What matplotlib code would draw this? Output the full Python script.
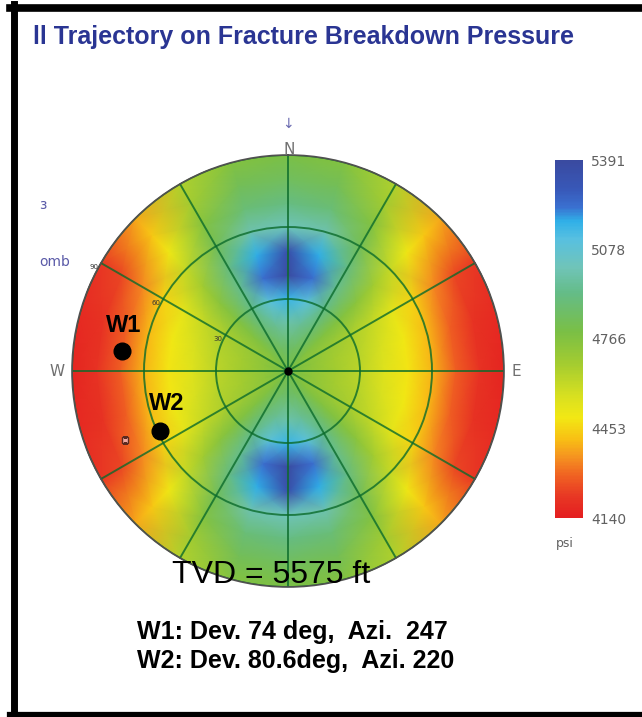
import numpy as np
import matplotlib
matplotlib.use("Agg")
import matplotlib.pyplot as plt
from matplotlib.colors import LinearSegmentedColormap
from matplotlib.lines import Line2D

# breakdown pressure (psi) by well azimuth (rows) and deviation (columns),
# one quadrant; the field is mirrored across the N-S and E-W axes
deviation = [0, 10, 20, 30, 40, 50, 60, 70, 80, 90]
azimuth = [0, 15, 30, 45, 60, 75, 90]
pressure = [
    [4790, 4866, 4990, 5160, 5391, 5350, 5016, 4915, 4840, 4790],
    [4790, 4853, 4953, 5100, 5230, 5180, 5000, 4890, 4828, 4766],
    [4790, 4828, 4880, 4930, 4940, 4910, 4828, 4766, 4690, 4650],
    [4790, 4766, 4766, 4766, 4750, 4690, 4610, 4500, 4430, 4380],
    [4790, 4740, 4703, 4665, 4610, 4530, 4450, 4340, 4240, 4210],
    [4790, 4740, 4678, 4640, 4570, 4495, 4405, 4280, 4200, 4175],
    [4790, 4728, 4678, 4628, 4550, 4485, 4400, 4280, 4200, 4160],
]
p_min, p_max = 4140, 5391
scale_ticks = [4140, 4453, 4766, 5078, 5391]

# wells: stated trajectory and the labelled marker positions on the plot
well_names = ["W1", "W2"]
well_dev = [74, 80.6]
well_azi = [247, 220]
marker_dev = [69.7, 58.9]
marker_azi = [277, 245]
ring_labels = [90, 60, 30]

cmap = LinearSegmentedColormap.from_list("fbp", [
    (0.00, "#e41e20"), (0.06, "#e83824"), (0.12, "#f06422"),
    (0.17, "#f59420"), (0.22, "#f8c014"), (0.28, "#f2e814"),
    (0.34, "#d8e020"), (0.43, "#a4cc30"), (0.52, "#7abf45"),
    (0.63, "#64bc88"), (0.70, "#70c4b8"), (0.78, "#58c0e0"),
    (0.83, "#30b0e8"), (0.87, "#3a70d0"), (0.92, "#3858b8"),
    (1.00, "#3a4aa0"),
])

W, H = 642, 717


def fx(x):
    return x / W


def fy(y):
    return 1 - y / H


fig = plt.figure(figsize=(W / 100, H / 100), dpi=100)
fig.patch.set_facecolor("white")

# polar stereonet: north up, azimuth clockwise, radius = deviation
ax = fig.add_axes([fx(72), fy(587), 432 / W, 432 / H], projection="polar")
ax.set_theta_zero_location("N")
ax.set_theta_direction(-1)

az_full = np.arange(0, 361, 15)
fold = np.minimum(az_full % 180, 180 - az_full % 180)
grid_p = np.array(pressure, dtype=float)[[azimuth.index(a) for a in fold]]
grid_p = np.hstack([grid_p, grid_p[:, -1:]])  # pad past the rim so the edge is filled
r_vals = deviation + [96]
T, R = np.meshgrid(np.radians(az_full), r_vals, indexing="ij")
mesh = ax.pcolormesh(T, R, grid_p, shading="gouraud", cmap=cmap,
                     vmin=p_min, vmax=p_max)

ax.set_ylim(0, 90)
ax.set_yticks([30, 60, 90])
ax.set_yticklabels([])
ax.set_xticks(np.radians(np.arange(0, 360, 30)))
ax.set_xticklabels([])
ax.grid(True, color="#0b6b2b", alpha=0.8, lw=1.4)
ax.spines["polar"].set_color("#505050")
ax.spines["polar"].set_linewidth(1.2)

for r in ring_labels:
    ax.annotate(str(r), (np.radians(300), r), xytext=(-2, -3),
                textcoords="offset points", ha="right", va="center",
                fontsize=5, color="#333333")

ax.plot(0, 0, "o", color="black", ms=5, zorder=5)
ax.plot(np.radians(well_azi[0]), well_dev[0], "s", ms=5, mfc="#f0a8a0",
        mec="#5a2a20", mew=1, zorder=5)
ax.plot(np.radians(marker_azi), marker_dev, "o", color="black", ms=12,
        ls="none", zorder=6)

# compass letters
fig.text(fx(288), fy(124), "\u2193", ha="center", va="center",
         fontsize=10, color="#6a6ab0")
fig.text(fx(289), fy(149), "N", ha="center", va="center", fontsize=11,
         color="#707070")
fig.text(fx(57), fy(371), "W", ha="center", va="center", fontsize=11,
         color="#707070")
fig.text(fx(516), fy(371), "E", ha="center", va="center", fontsize=11,
         color="#707070")

fig.text(fx(124), fy(325), well_names[0], ha="center", va="center",
         fontsize=17, fontweight="bold", family="Liberation Sans")
fig.text(fx(167), fy(404), well_names[1], ha="center", va="center",
         fontsize=17, fontweight="bold", family="Liberation Sans")

# colour scale
cax = fig.add_axes([fx(555), fy(518), 28 / W, 358 / H])
cb = fig.colorbar(mesh, cax=cax, ticks=scale_ticks)
cb.outline.set_visible(False)
cax.tick_params(length=0, pad=6, labelsize=10, labelcolor="#606060")
cax.set_yticklabels([str(t) for t in scale_ticks])
fig.text(fx(556), fy(543), "psi", ha="left", va="center", fontsize=9,
         color="#606060")

# heading and side captions
fig.text(fx(33), fy(37), "ll Trajectory on Fracture Breakdown Pressure",
         ha="left", va="center", fontsize=18, fontweight="bold",
         color="#2a3593", family="Liberation Sans")
fig.text(fx(39), fy(205), "\u025c", ha="left", va="center", fontsize=10,
         color="#5a5aa8")
fig.text(fx(39), fy(262), "omb", ha="left", va="center", fontsize=10,
         color="#5a5aa8")

fig.text(fx(172), fy(575), "TVD = 5575 ft", ha="left", va="center",
         fontsize=23, family="Liberation Sans")
fig.text(fx(137), fy(632),
         f"W1: Dev. {well_dev[0]} deg,  Azi.  {well_azi[0]}",
         ha="left", va="center", fontsize=18, fontweight="bold",
         family="Liberation Sans")
fig.text(fx(137), fy(661),
         f"W2: Dev. {well_dev[1]}deg,  Azi. {well_azi[1]}",
         ha="left", va="center", fontsize=18, fontweight="bold",
         family="Liberation Sans")

# black frame
fig.add_artist(Line2D([fx(13.5), fx(13.5)], [fy(4), fy(717)], lw=5,
                      color="black", transform=fig.transFigure))
fig.add_artist(Line2D([fx(10), 1], [fy(7.5), fy(7.5)], lw=5.5,
                      color="black", transform=fig.transFigure))
fig.add_artist(Line2D([fx(10), 1], [fy(715), fy(715)], lw=4.5,
                      color="black", transform=fig.transFigure))

fig.savefig("out.png", dpi=100)
